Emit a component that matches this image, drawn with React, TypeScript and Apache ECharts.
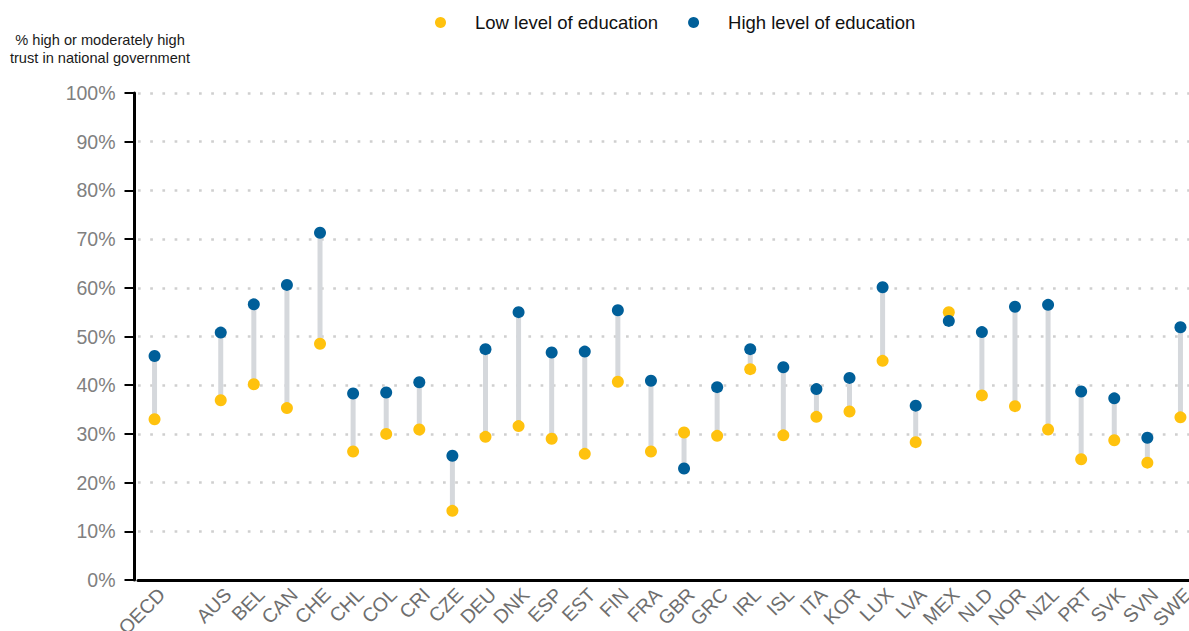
import React, { useEffect, useRef } from "react";
import * as echarts from "echarts";

const categories = [
  "OECD", "", "AUS", "BEL", "CAN", "CHE", "CHL", "COL", "CRI", "CZE", "DEU", "DNK", "ESP", "EST",
  "FIN", "FRA", "GBR", "GRC", "IRL", "ISL", "ITA", "KOR", "LUX", "LVA", "MEX", "NLD", "NOR",
  "NZL", "PRT", "SVK", "SVN", "SWE",
];

const lowEducation: (number | null)[] = [
  33.0, null, 36.9, 40.2, 35.3, 48.5, 26.4, 30.0, 30.9, 14.2, 29.4, 31.6, 29.0, 25.9,
  40.7, 26.4, 30.3, 29.6, 43.3, 29.7, 33.5, 34.6, 45.0, 28.3, 55.0, 37.9, 35.7,
  30.9, 24.8, 28.7, 24.1, 33.4,
];

const highEducation: (number | null)[] = [
  46.0, null, 50.8, 56.6, 60.6, 71.3, 38.3, 38.5, 40.6, 25.5, 47.4, 55.0, 46.7, 46.9,
  55.4, 40.9, 22.9, 39.6, 47.4, 43.7, 39.2, 41.5, 60.1, 35.8, 53.2, 50.9, 56.1,
  56.5, 38.7, 37.3, 29.2, 51.9,
];

const seriesNames = ["Low level of education", "High level of education"];
const axisTitle = "% high or moderately high\ntrust in national government";

const YELLOW = "#FFC20E";
const BLUE = "#005F99";
const FONT = "'Liberation Sans', Arial, sans-serif";

export default function App() {
  const ref = useRef<HTMLDivElement>(null);

  useEffect(() => {
    if (!ref.current) return;
    const chart = echarts.init(ref.current, null, { renderer: "svg" });

    const rangeData = categories
      .map((_, i) =>
        lowEducation[i] == null || highEducation[i] == null
          ? null
          : [i, lowEducation[i], highEducation[i]]
      )
      .filter((d) => d !== null);

    chart.setOption({
      animation: false,
      textStyle: { fontFamily: FONT },
      grid: {
        left: 138,
        right: -8,
        top: 93,
        bottom: 51,
        containLabel: false,
        outerBoundsMode: "none",
      },
      legend: {
        top: 13,
        left: 435,
        padding: 0,
        itemWidth: 11,
        itemHeight: 11,
        itemGap: 30,
        icon: "circle",
        textStyle: {
          fontSize: 18.5,
          color: "#111",
          fontFamily: FONT,
          padding: [0, 0, 0, 24],
        },
        data: seriesNames,
      },
      graphic: [
        {
          type: "text",
          x: 100,
          y: 31,
          style: {
            text: axisTitle,
            fontSize: 14.6,
            lineHeight: 18,
            fill: "#1a1a1a",
            fontFamily: FONT,
            align: "center",
            verticalAlign: "top",
          },
        },
      ],
      xAxis: {
        type: "category",
        data: categories,
        boundaryGap: true,
        axisLine: { show: true, lineStyle: { color: "#000", width: 3 } },
        axisTick: { show: false },
        axisLabel: {
          rotate: 45,
          interval: 0,
          fontSize: 19.5,
          color: "#6e6e6e",
          fontFamily: FONT,
          margin: 4,
          verticalAlign: "top",
          align: "right",
        },
        splitLine: { show: false },
      },
      yAxis: {
        type: "value",
        min: 0,
        max: 100,
        interval: 10,
        offset: 3.5,
        axisLine: { show: true, lineStyle: { color: "#000", width: 3 } },
        axisTick: { show: true, length: 10, lineStyle: { color: "#000", width: 2 } },
        axisLabel: {
          formatter: "{value}%",
          fontSize: 19.5,
          color: "#808080",
          fontFamily: FONT,
          margin: 19,
        },
        splitLine: {
          show: true,
          lineStyle: { color: "#cfcfcf", width: 2.7, type: [2.7, 9.5] },
        },
      },
      series: [
        {
          type: "custom",
          name: "range",
          silent: true,
          data: rangeData,
          encode: { x: 0, y: [1, 2] },
          renderItem: (params: any, api: any) => {
            const x = api.value(0);
            const p1 = api.coord([x, api.value(1)]);
            const p2 = api.coord([x, api.value(2)]);
            return {
              type: "line",
              shape: { x1: p1[0], y1: p1[1], x2: p2[0], y2: p2[1] },
              style: { stroke: "#D5D8DC", lineWidth: 5 },
            };
          },
          z: 1,
        },
        {
          type: "scatter",
          name: seriesNames[0],
          data: lowEducation,
          symbol: "circle",
          symbolSize: 12,
          itemStyle: { color: YELLOW, opacity: 1 },
          z: 2,
        },
        {
          type: "scatter",
          name: seriesNames[1],
          data: highEducation,
          symbol: "circle",
          symbolSize: 12,
          itemStyle: { color: BLUE, opacity: 1 },
          z: 3,
        },
      ],
    });

    return () => chart.dispose();
  }, []);

  return (
    <div
      ref={ref}
      style={{ position: "absolute", left: 0, top: 0, width: 1189, height: 631 }}
    />
  );
}
